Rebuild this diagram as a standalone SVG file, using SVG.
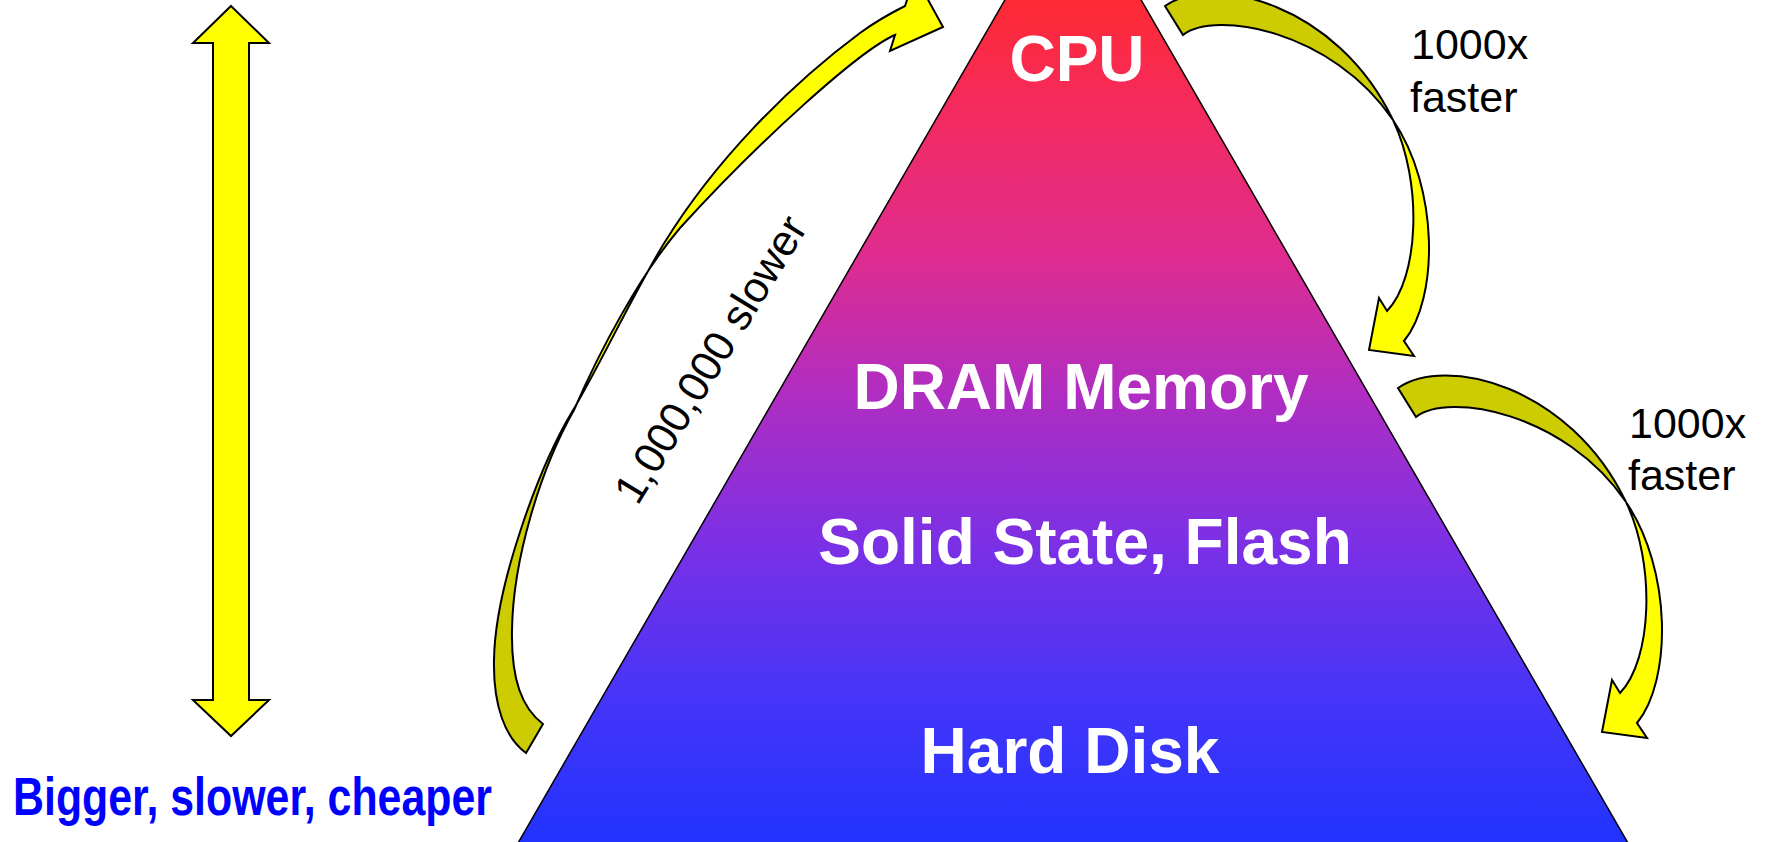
<svg xmlns="http://www.w3.org/2000/svg" xmlns:xlink="http://www.w3.org/1999/xlink" width="1770" height="842" viewBox="0 0 1770 842">
  <style>
    .level { font-family: "Liberation Sans", Arial, sans-serif; font-weight: bold; font-size: 64px; fill: #FFFFFF; text-anchor: middle; }
    .note { font-family: "Liberation Sans", Arial, sans-serif; font-size: 43px; fill: #000000; }
    .caption { font-family: "Liberation Sans", Arial, sans-serif; font-weight: bold; font-size: 53px; fill: #0000FF; }
    .back { fill: #CCCC00; stroke: #000000; stroke-width: 2; stroke-linejoin: miter; }
    .front { fill: #FFFF00; stroke: #000000; stroke-width: 2; stroke-linejoin: miter; }
  </style>
  <defs>
    <linearGradient id="pyramidFill" gradientUnits="userSpaceOnUse" x1="0" y1="0" x2="0" y2="842">
      <stop offset="0" stop-color="#FF2A33"/>
      <stop offset="0.1" stop-color="#F72A55"/>
      <stop offset="0.3" stop-color="#DF2C8E"/>
      <stop offset="0.46" stop-color="#B22DC0"/>
      <stop offset="0.65" stop-color="#7A30E6"/>
      <stop offset="0.83" stop-color="#4535F8"/>
      <stop offset="1" stop-color="#2233FF"/>
    </linearGradient>
    <!-- twisted curl arrow: darker back face near the tail, bright front face near the head -->
    <g id="curl">
      <path class="back" d="M1398,388 C1445,355 1570,385 1626,502 C1565,412 1448,392 1416,417 Z"/>
      <path class="front" d="M1626,502 C1672,570 1672,680 1637,723 L1647,738 L1602,732 L1612,680 L1620,693 C1652,660 1656,565 1626,502 Z"/>
    </g>
  </defs>

  <rect x="0" y="0" width="1770" height="842" fill="#FFFFFF"/>

  <g id="pyramid">
    <polygon points="1073,-118 1632,850 514,850" fill="url(#pyramidFill)" stroke="#000000" stroke-width="1.5"/>
  </g>

  <g id="cpu"><text class="level" x="1077" y="81">CPU</text></g>
  <g id="dram"><text class="level" x="1081" y="409">DRAM Memory</text></g>
  <g id="flash"><text class="level" x="1085" y="564">Solid State, Flash</text></g>
  <g id="disk"><text class="level" x="1070" y="773">Hard Disk</text></g>

  <g id="connectors">
    <!-- size / speed / cost scale -->
    <polygon class="front" stroke-width="1.5" points="231,6 269,43 249,43 249,700 269,700 231,736 193,700 213,700 213,43 193,43"/>

    <!-- long curl from the disk level up to the CPU -->
    <path class="back" d="M572,412 C540,465 495,585 494,660 C493,705 505,738 526,753 L543,724 C522,708 511,680 512,630 C513,560 540,470 574,410 Z"/>
    <path class="front" d="M572,412 C600,365 630,300 663,245 C715,160 790,85 860,33 C875,22 893,12 905,6 L915,-24 L943,27 L890,51 L895,35 C860,50 760,140 680,228 C640,275 600,350 574,410 Z"/>

    <!-- CPU to DRAM -->
    <use xlink:href="#curl" transform="translate(-233,-382)"/>
    <!-- DRAM to disk -->
    <use xlink:href="#curl"/>
  </g>

  <g id="labels">
    <text class="note" transform="translate(723,367) rotate(-58.5)" text-anchor="middle">1,000,000 slower</text>
    <text class="note" x="1411" y="59">1000x</text>
    <text class="note" x="1410" y="112">faster</text>
    <text class="note" x="1629" y="438">1000x</text>
    <text class="note" x="1628" y="490">faster</text>
    <text class="caption" x="13" y="815" textLength="479" lengthAdjust="spacingAndGlyphs">Bigger, slower, cheaper</text>
  </g>
</svg>
